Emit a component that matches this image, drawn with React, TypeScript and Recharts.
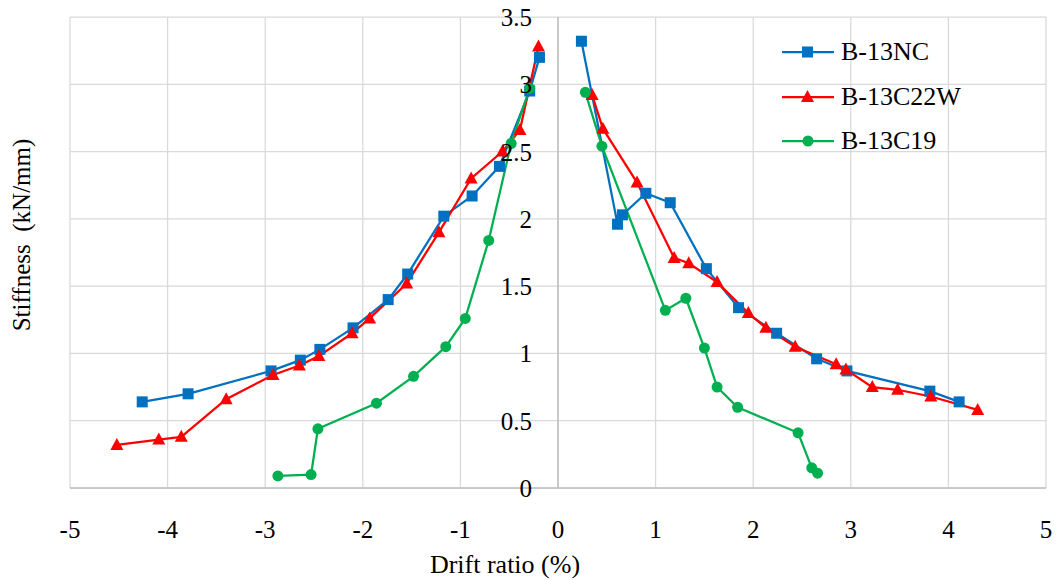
import React from "react";
import { LineChart, Line, XAxis, YAxis, CartesianGrid, ReferenceLine, Legend, Label } from "recharts";

// drift ratio (%) vs stiffness (kN/mm), each specimen has a negative and a positive branch
const nc_neg = [
  { x: -4.26, y: 0.64 }, { x: -3.79, y: 0.70 }, { x: -2.94, y: 0.87 }, { x: -2.64, y: 0.95 },
  { x: -2.44, y: 1.03 }, { x: -2.10, y: 1.19 }, { x: -1.74, y: 1.40 }, { x: -1.54, y: 1.59 },
  { x: -1.17, y: 2.02 }, { x: -0.88, y: 2.17 }, { x: -0.60, y: 2.39 }, { x: -0.29, y: 2.95 },
  { x: -0.19, y: 3.20 },
];
const nc_pos = [
  { x: 0.24, y: 3.32 }, { x: 0.61, y: 1.96 }, { x: 0.66, y: 2.03 }, { x: 0.90, y: 2.19 },
  { x: 1.15, y: 2.12 }, { x: 1.52, y: 1.63 }, { x: 1.85, y: 1.34 }, { x: 2.24, y: 1.15 },
  { x: 2.65, y: 0.96 }, { x: 2.96, y: 0.87 }, { x: 3.81, y: 0.72 }, { x: 4.11, y: 0.64 },
];
const c22w_neg = [
  { x: -4.52, y: 0.32 }, { x: -4.09, y: 0.36 }, { x: -3.86, y: 0.38 }, { x: -3.40, y: 0.66 },
  { x: -2.92, y: 0.84 }, { x: -2.65, y: 0.91 }, { x: -2.45, y: 0.98 }, { x: -2.11, y: 1.15 },
  { x: -1.93, y: 1.26 }, { x: -1.55, y: 1.52 }, { x: -1.22, y: 1.90 }, { x: -0.89, y: 2.30 },
  { x: -0.57, y: 2.50 }, { x: -0.39, y: 2.66 }, { x: -0.20, y: 3.28 },
];
const c22w_pos = [
  { x: 0.35, y: 2.92 }, { x: 0.46, y: 2.67 }, { x: 0.81, y: 2.27 }, { x: 1.19, y: 1.71 },
  { x: 1.34, y: 1.67 }, { x: 1.63, y: 1.53 }, { x: 1.95, y: 1.30 }, { x: 2.13, y: 1.19 },
  { x: 2.43, y: 1.05 }, { x: 2.85, y: 0.92 }, { x: 2.95, y: 0.88 }, { x: 3.22, y: 0.75 },
  { x: 3.48, y: 0.73 }, { x: 3.82, y: 0.68 }, { x: 4.30, y: 0.58 },
];
const c19_neg = [
  { x: -2.87, y: 0.09 }, { x: -2.53, y: 0.10 }, { x: -2.46, y: 0.44 }, { x: -1.86, y: 0.63 },
  { x: -1.48, y: 0.83 }, { x: -1.15, y: 1.05 }, { x: -0.95, y: 1.26 }, { x: -0.71, y: 1.84 },
  { x: -0.48, y: 2.56 }, { x: -0.29, y: 2.97 },
];
const c19_pos = [
  { x: 0.28, y: 2.94 }, { x: 0.45, y: 2.54 }, { x: 1.10, y: 1.32 }, { x: 1.31, y: 1.41 },
  { x: 1.50, y: 1.04 }, { x: 1.63, y: 0.75 }, { x: 1.84, y: 0.60 }, { x: 2.46, y: 0.41 },
  { x: 2.60, y: 0.15 }, { x: 2.66, y: 0.11 },
];

const seriesNames = ["B-13NC", "B-13C22W", "B-13C19"];
const xTicks = [-5, -4, -3, -2, -1, 0, 1, 2, 3, 4, 5];
const yTicks = [0, 0.5, 1, 1.5, 2, 2.5, 3, 3.5];

const BLUE = "#0070C0";
const RED = "#FF0000";
const GREEN = "#00B050";
const FONT = "Liberation Serif, DejaVu Serif, serif";

if (typeof document !== "undefined") document.body.style.margin = "0";

const Square = (p: any) => {
  if (p.cx == null || p.cy == null) return null;
  return <rect key={p.key} x={p.cx - 5.5} y={p.cy - 5.5} width={11} height={11} fill={BLUE} />;
};
const Triangle = (p: any) => {
  if (p.cx == null || p.cy == null) return null;
  const { cx, cy } = p;
  return <polygon key={p.key} points={`${cx},${cy - 7} ${cx + 6.5},${cy + 5} ${cx - 6.5},${cy + 5}`} fill={RED} />;
};

const markerFor = (name: string, color: string) => {
  if (name === "B-13NC") return <rect x={20} y={-5.5} width={11} height={11} fill={color} />;
  if (name === "B-13C22W") return <polygon points="25.5,-7 32,5 19,5" fill={color} />;
  return <circle cx={26} cy={0} r={5.5} fill={color} />;
};

const LegendBox = ({ payload }: any) => {
  const items = (payload || [])
    .filter((it: any) => it.type !== "none" && seriesNames.includes(it.value))
    .sort((a: any, b: any) => seriesNames.indexOf(a.value) - seriesNames.indexOf(b.value));
  return (
    <div>
      {items.map((item: any) => (
        <div key={item.value} style={{ height: 44.5, display: "flex", alignItems: "center" }}>
          <svg width={59} height={20} style={{ overflow: "visible" }}>
            <g transform="translate(0,10)">
              <line x1={0} x2={52} y1={0} y2={0} stroke={item.color} strokeWidth={2.25} />
              {markerFor(item.value, item.color)}
            </g>
          </svg>
          <span style={{ fontFamily: FONT, fontSize: 26, color: "#000", lineHeight: 1 }}>{item.value}</span>
        </div>
      ))}
    </div>
  );
};

const XTick = (p: any) => (
  <text x={p.x} y={p.y + 50} textAnchor="middle" fontFamily={FONT} fontSize={25} fill="#000">
    {p.payload.value}
  </text>
);

// y tick labels sit next to the x = 0 line, so shift them by half the plot width
const YTick = (p: any) => (
  <text x={p.x + 462} y={p.y + 9} textAnchor="end" fontFamily={FONT} fontSize={25} fill="#000">
    {p.payload.value}
  </text>
);

export default function App() {
  return (
    <LineChart width={1057} height={580} margin={{ top: 17, right: 11, left: 60, bottom: 0 }}>
      <CartesianGrid stroke="#d9d9d9" strokeWidth={1.25} horizontal vertical />
      <XAxis
        type="number"
        dataKey="x"
        domain={[-5, 5]}
        ticks={xTicks}
        allowDataOverflow
        height={92}
        tickSize={0}
        tickMargin={0}
        axisLine={{ stroke: "#bfbfbf", strokeWidth: 1.5 }}
        tickLine={false}
        tick={<XTick />}
      >
        <Label
          content={() => (
            <text x={505} y={573} textAnchor="middle" fontFamily={FONT} fontSize={26} fill="#000">
              Drift ratio (%)
            </text>
          )}
        />
      </XAxis>
      <YAxis
        type="number"
        dataKey="y"
        domain={[0, 3.5]}
        ticks={yTicks}
        width={10}
        tickSize={0}
        tickMargin={0}
        axisLine={false}
        tickLine={false}
        tick={<YTick />}
      >
        <Label
          content={() => (
            <text x={0} y={0} transform="translate(30,235) rotate(-90)" textAnchor="middle" fontFamily={FONT} fontSize={25} fill="#000" style={{ whiteSpace: "pre" }}>
              {"Stiffness\u00a0\u00a0(kN/mm)"}
            </text>
          )}
        />
      </YAxis>
      <ReferenceLine x={0} stroke="#bfbfbf" strokeWidth={1.5} />
      <Legend
        layout="vertical"
        verticalAlign="middle"
        align="center"
        wrapperStyle={{ left: 782, top: 30, width: 260 }}
        content={<LegendBox />}
      />
      <Line data={nc_neg} dataKey="y" name="B-13NC" stroke={BLUE} strokeWidth={2.25} dot={<Square />} isAnimationActive={false} />
      <Line data={nc_pos} dataKey="y" name="B-13NC+" stroke={BLUE} strokeWidth={2.25} dot={<Square />} legendType="none" isAnimationActive={false} />
      <Line data={c22w_neg} dataKey="y" name="B-13C22W" stroke={RED} strokeWidth={2.25} dot={<Triangle />} isAnimationActive={false} />
      <Line data={c22w_pos} dataKey="y" name="B-13C22W+" stroke={RED} strokeWidth={2.25} dot={<Triangle />} legendType="none" isAnimationActive={false} />
      <Line data={c19_neg} dataKey="y" name="B-13C19" stroke={GREEN} strokeWidth={2.25} dot={{ r: 5.5, fill: GREEN, stroke: GREEN, strokeWidth: 0 }} isAnimationActive={false} />
      <Line data={c19_pos} dataKey="y" name="B-13C19+" stroke={GREEN} strokeWidth={2.25} dot={{ r: 5.5, fill: GREEN, stroke: GREEN, strokeWidth: 0 }} legendType="none" isAnimationActive={false} />
    </LineChart>
  );
}
